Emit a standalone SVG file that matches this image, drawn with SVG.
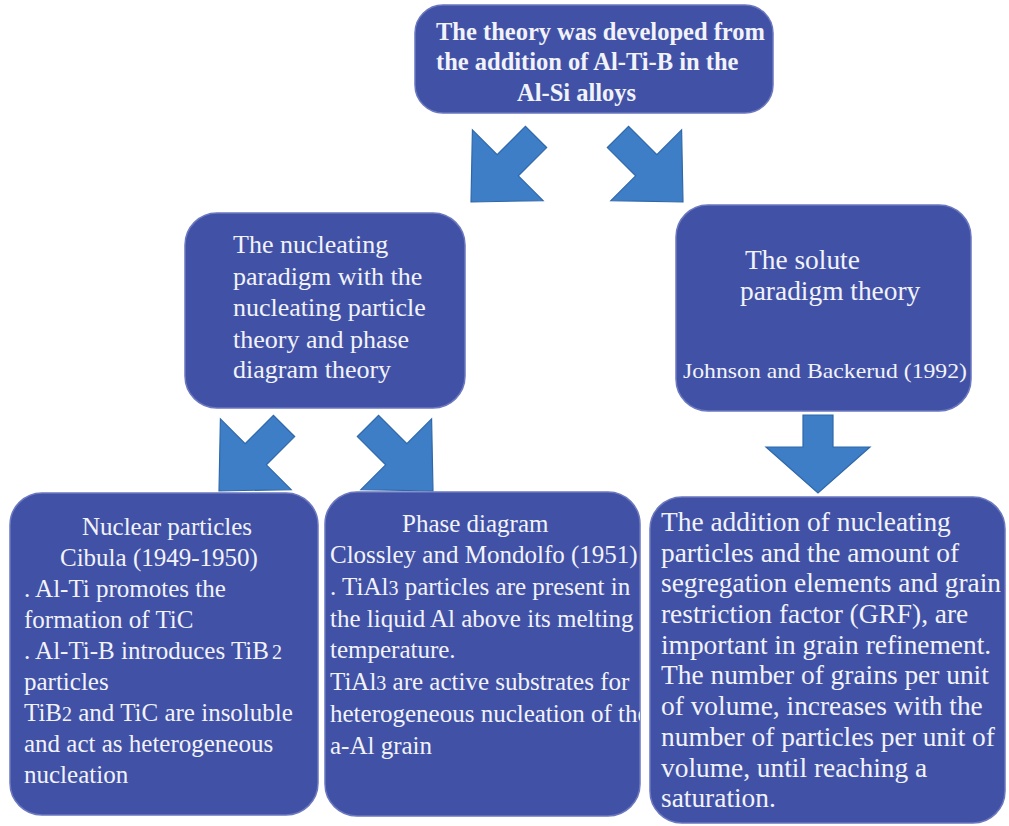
<svg xmlns="http://www.w3.org/2000/svg" width="1009" height="826" viewBox="0 0 1009 826" font-family="'Liberation Serif', 'DejaVu Serif', serif">
<style>
.box{fill:#4152A6;stroke:#6B77BE;stroke-width:1.5}
text{font-family:'Liberation Serif','DejaVu Serif',serif;fill:#F2F2FA}
.b{font-weight:bold;font-size:24.5px}
.s25{font-size:25px}
.s26{font-size:26px}
.s27{font-size:27.4px}
.sub{font-size:80%}
.arr{fill:#3D7EC6;stroke:#2F68AA;stroke-width:1.2}
</style>
<defs>
<path id="diag" d="M0,0 L50,-52 L15,-52 L15,-92 L-15,-92 L-15,-52 L-50,-52 Z"/>
<clipPath id="c2"><rect x="325" y="492" width="315" height="324" rx="32"/></clipPath>
</defs>
<rect width="1009" height="826" fill="#FFFFFF"/>

<g id="connectors">
<use href="#diag" class="arr" transform="translate(471,202) rotate(45)"/>
<use href="#diag" class="arr" transform="translate(683,202) rotate(-45)"/>
<use href="#diag" class="arr" transform="translate(219,491) rotate(45)"/>
<use href="#diag" class="arr" transform="translate(433,491) rotate(-45)"/>
<path class="arr" d="M803,415 L833,415 L833,447 L870,447 L818,493 L766,447 L803,447 Z"/>
</g>

<g id="node-top">
<rect class="box" x="415" y="5" width="358" height="108" rx="28"/>
<text class="b" x="436" y="40">The theory was developed from</text>
<text class="b" x="436" y="70">the addition of Al-Ti-B in the</text>
<text class="b" x="517" y="101">Al-Si alloys</text>
</g>

<g id="node-nucleating">
<rect class="box" x="185" y="213" width="280" height="195" rx="32"/>
<text class="s26" x="233" y="253">The nucleating</text>
<text class="s26" x="233" y="285">paradigm with the</text>
<text class="s26" x="233" y="316">nucleating particle</text>
<text class="s26" x="233" y="348">theory and phase</text>
<text class="s26" x="233" y="378">diagram theory</text>
</g>

<g id="node-solute">
<rect class="box" x="676" y="205" width="295" height="206" rx="32"/>
<text class="s27" x="745" y="269">The solute</text>
<text class="s27" x="740" y="300">paradigm theory</text>
<text x="683" y="378" font-size="22" textLength="284" lengthAdjust="spacingAndGlyphs">Johnson and Backerud (1992)</text>
</g>

<g id="node-nuclear">
<rect class="box" x="10" y="493" width="308" height="322" rx="32"/>
<text class="s25" x="82" y="535">Nuclear particles</text>
<text class="s25" x="60" y="566">Cibula (1949-1950)</text>
<text class="s25" x="24" y="597">. Al-Ti promotes the</text>
<text class="s25" x="24" y="628">formation of TiC</text>
<text class="s25" x="24" y="659">. Al-Ti-B introduces TiB<tspan class="sub" dx="3">2</tspan></text>
<text class="s25" x="24" y="690">particles</text>
<text class="s25" x="24" y="721">TiB<tspan class="sub">2</tspan> and TiC are insoluble</text>
<text class="s25" x="24" y="752">and act as heterogeneous</text>
<text class="s25" x="24" y="783">nucleation</text>
</g>

<g id="node-phase">
<rect class="box" x="325" y="492" width="315" height="324" rx="32"/>
<g clip-path="url(#c2)">
<text class="s25" x="402" y="532">Phase diagram</text>
<text class="s25" x="330" y="563">Clossley and Mondolfo (1951)</text>
<text class="s25" x="330" y="595">. TiAl<tspan class="sub">3</tspan> particles are present in</text>
<text class="s25" x="330" y="627">the liquid Al above its melting</text>
<text class="s25" x="330" y="658">temperature.</text>
<text class="s25" x="330" y="690">TiAl<tspan class="sub">3</tspan> are active substrates for</text>
<text class="s25" x="330" y="722">heterogeneous nucleation of the</text>
<text class="s25" x="330" y="754">a-Al grain</text>
</g>
</g>

<g id="node-addition">
<rect class="box" x="650" y="497" width="355" height="326" rx="32"/>
<text class="s27" x="661" y="531">The addition of nucleating</text>
<text class="s27" x="661" y="562">particles and the amount of</text>
<text class="s27" x="661" y="592">segregation elements and grain</text>
<text class="s27" x="661" y="623">restriction factor (GRF), are</text>
<text class="s27" x="661" y="654">important in grain refinement.</text>
<text class="s27" x="661" y="684">The number of grains per unit</text>
<text class="s27" x="661" y="715">of volume, increases with the</text>
<text class="s27" x="661" y="746">number of particles per unit of</text>
<text class="s27" x="661" y="777">volume, until reaching a</text>
<text class="s27" x="661" y="807">saturation.</text>
</g>
</svg>
